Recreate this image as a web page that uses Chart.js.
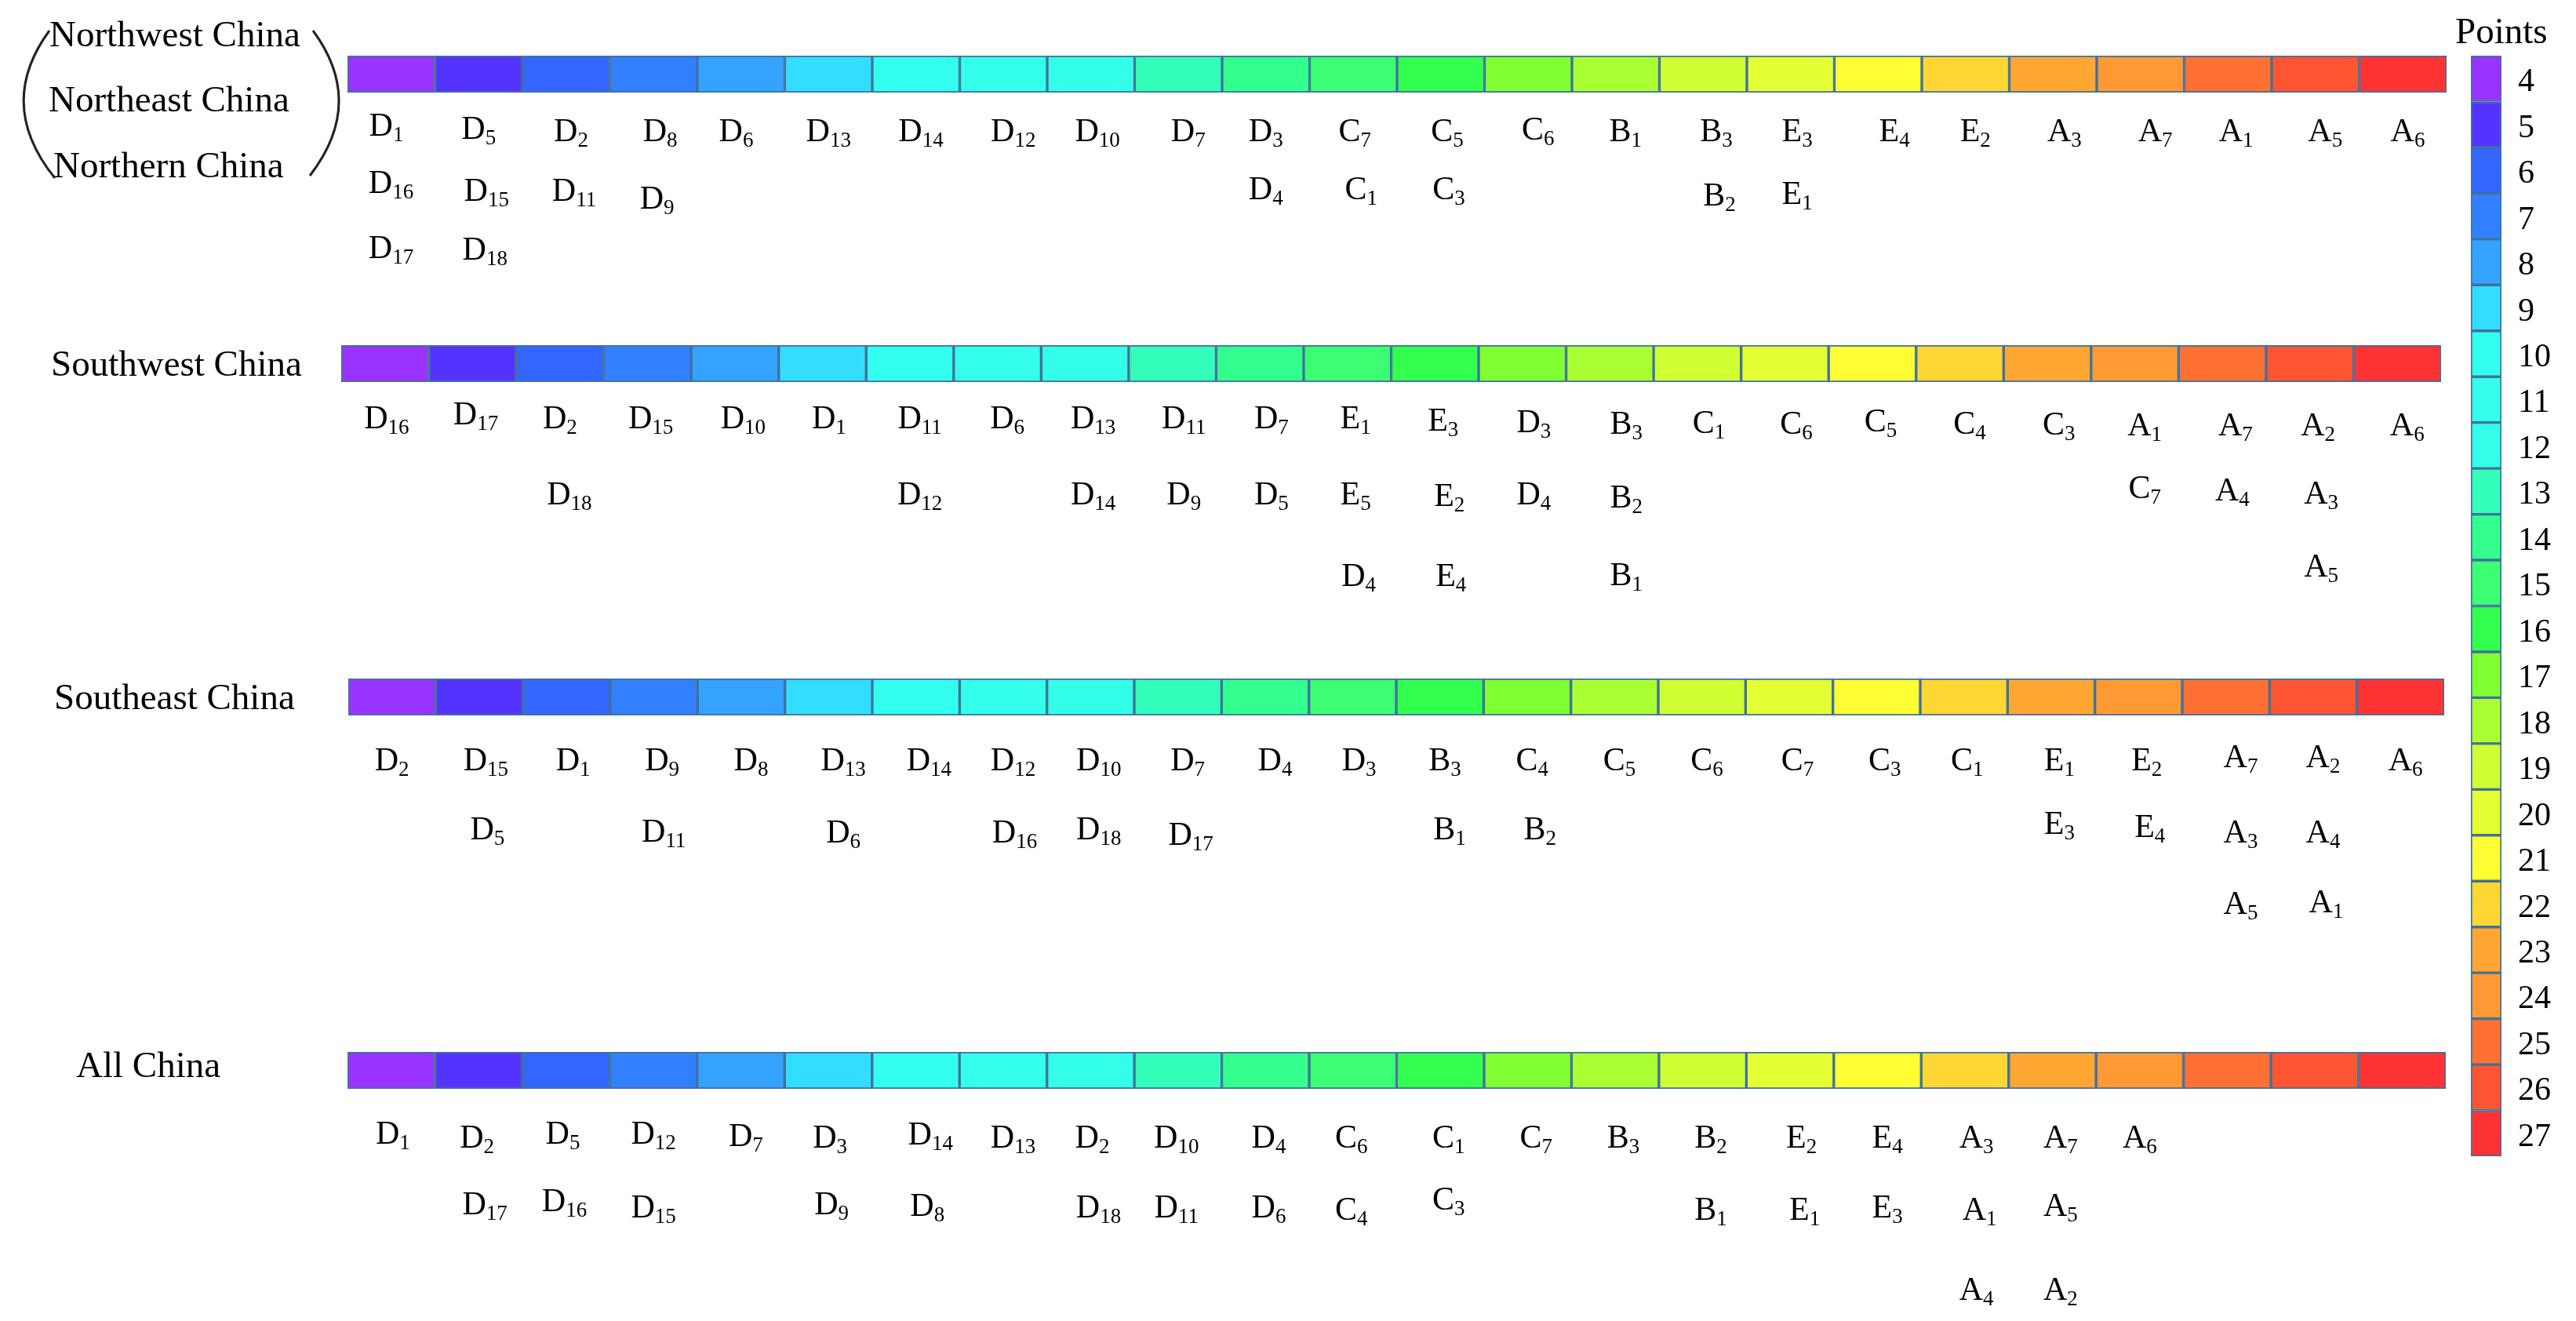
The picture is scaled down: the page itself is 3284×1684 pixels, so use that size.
<!DOCTYPE html>
<html>
<head>
<meta charset="utf-8">
<title>Points by region</title>
<script src="https://cdn.jsdelivr.net/npm/chart.js@4/dist/chart.umd.min.js"></script>
<style>
  body { margin: 0; background: #fff; }
  canvas { position: absolute; left: 0; top: 0; }
</style>
</head>
<body>
<canvas id="strip1" width="3284" height="1684"></canvas>
<canvas id="strip2" width="3284" height="1684"></canvas>
<canvas id="strip3" width="3284" height="1684"></canvas>
<canvas id="strip4" width="3284" height="1684"></canvas>
<canvas id="scale" width="3284" height="1684"></canvas>
<script>
// score classes shown in every strip and in the colour key
const points = [4, 5, 6, 7, 8, 9, 10, 11, 12, 13, 14, 15, 16, 17, 18, 19, 20, 21, 22, 23, 24, 25, 26, 27];

// indicators sitting under each score class
const northChina = [
  ['D1', 'D16', 'D17'], ['D5', 'D15', 'D18'], ['D2', 'D11'], ['D8', 'D9'], ['D6'], ['D13'],
  ['D14'], ['D12'], ['D10'], ['D7'], ['D3', 'D4'], ['C7', 'C1'],
  ['C5', 'C3'], ['C6'], ['B1'], ['B3', 'B2'], ['E3', 'E1'], ['E4'],
  ['E2'], ['A3'], ['A7'], ['A1'], ['A5'], ['A6']
];
const southwestChina = [
  ['D16'], ['D17'], ['D2', 'D18'], ['D15'], ['D10'], ['D1'],
  ['D11', 'D12'], ['D6'], ['D13', 'D14'], ['D11', 'D9'], ['D7', 'D5'], ['E1', 'E5', 'D4'],
  ['E3', 'E2', 'E4'], ['D3', 'D4'], ['B3', 'B2', 'B1'], ['C1'], ['C6'], ['C5'],
  ['C4'], ['C3'], ['A1', 'C7'], ['A7', 'A4'], ['A2', 'A3', 'A5'], ['A6']
];
const southeastChina = [
  ['D2'], ['D15', 'D5'], ['D1'], ['D9', 'D11'], ['D8'], ['D13', 'D6'],
  ['D14'], ['D12', 'D16'], ['D10', 'D18'], ['D7', 'D17'], ['D4'], ['D3'],
  ['B3', 'B1'], ['C4', 'B2'], ['C5'], ['C6'], ['C7'], ['C3'],
  ['C1'], ['E1', 'E3'], ['E2', 'E4'], ['A7', 'A3', 'A5'], ['A2', 'A4', 'A1'], ['A6']
];
const allChina = [
  ['D1'], ['D2', 'D17'], ['D5', 'D16'], ['D12', 'D15'], ['D7'], ['D3', 'D9'],
  ['D14', 'D8'], ['D13'], ['D2', 'D18'], ['D10', 'D11'], ['D4', 'D6'], ['C6', 'C4'],
  ['C1', 'C3'], ['C7'], ['B3'], ['B2', 'B1'], ['E2', 'E1'], ['E4', 'E3'],
  ['A3', 'A1', 'A4'], ['A7', 'A5', 'A2'], ['A6'], [], [], []
];

const cellColors = [
  '#9933ff', '#5533ff', '#3366ff', '#3380ff', '#33a3ff', '#33ddff', '#33ffee', '#33ffea',
  '#33ffe8', '#33ffbb', '#33ff8f', '#3cff73', '#33ff4f', '#80ff33', '#aaff33', '#d0ff33',
  '#e4ff33', '#ffff33', '#ffd633', '#ffa633', '#ff9933', '#ff7033', '#ff5533', '#ff3333'
];
const outline = '#41719c';
const serif = '"Liberation Serif", "Times New Roman", serif';

function drawIndicator(ctx, label, cx, baseline) {
  const letter = label[0], sub = label.slice(1);
  ctx.font = '42px ' + serif;
  const w1 = ctx.measureText(letter).width;
  ctx.font = '27px ' + serif;
  const w2 = ctx.measureText(sub).width;
  const x = cx - (w1 + w2) / 2;
  ctx.textAlign = 'left';
  ctx.textBaseline = 'alphabetic';
  ctx.fillStyle = '#000';
  ctx.font = '42px ' + serif;
  ctx.fillText(letter, x, baseline);
  ctx.font = '27px ' + serif;
  ctx.fillText(sub, x + w1, baseline + 7);
}

// indicators under the cells, one text row per entry of the column
const indicatorPlugin = {
  id: 'indicators',
  afterDraw(chart, args, opts) {
    const ctx = chart.ctx, x = chart.scales.x;
    ctx.save();
    opts.columns.forEach((col, i) => {
      col.forEach((label, row) => {
        // a few labels sit off their row in the original
        const shift = opts.shifts[i + ',' + row] || [0, 0];
        drawIndicator(ctx, label, x.getPixelForValue(i) + opts.nudge[i] * 2.09 + shift[0], opts.rows[row] + shift[1]);
      });
    });
    ctx.restore();
  }
};

const captionPlugin = {
  id: 'captions',
  afterDraw(chart, args, opts) {
    const ctx = chart.ctx;
    ctx.save();
    ctx.fillStyle = '#000';
    ctx.font = opts.size + 'px ' + serif;
    ctx.textAlign = 'left';
    ctx.textBaseline = 'alphabetic';
    opts.items.forEach(c => ctx.fillText(c[0], c[1], c[2]));
    ctx.restore();
    if (opts.brace) {
      ctx.save();
      ctx.strokeStyle = '#222';
      ctx.lineWidth = 3;
      ctx.beginPath();
      ctx.moveTo(63, 39);
      ctx.quadraticCurveTo(-6, 133, 70, 227);
      ctx.moveTo(399, 39);
      ctx.quadraticCurveTo(467, 131, 395, 224);
      ctx.stroke();
      ctx.restore();
    }
  }
};

function stripChart(id, columns, box, rows, nudge, shifts, captions, brace) {
  return new Chart(document.getElementById(id), {
    type: 'bar',
    plugins: [indicatorPlugin, captionPlugin],
    data: {
      labels: points,
      datasets: [{
        data: points.map(() => 1),
        backgroundColor: cellColors,
        borderColor: outline,
        borderWidth: 2,
        borderSkipped: false,
        barPercentage: 1,
        categoryPercentage: 1
      }]
    },
    options: {
      responsive: false,
      animation: false,
      devicePixelRatio: 1,
      layout: { padding: { left: box.left, right: 3284 - box.right, top: box.top, bottom: 1684 - box.bottom } },
      scales: {
        x: { display: false },
        y: { display: false, min: 0, max: 1 }
      },
      plugins: {
        legend: { display: false },
        tooltip: { enabled: false },
        indicators: { columns: columns, rows: rows, nudge: nudge, shifts: shifts },
        captions: { items: captions, size: 47, brace: brace }
      }
    }
  });
}

stripChart('strip1', northChina, { left: 443, right: 3119, top: 71, bottom: 118 }, [180, 254, 329],
  [-3, 0, 3, 4, -3, 0, 3, 6, 4, 6, 0, 1, 4, 6, 6, 8, 4, 10, 6, 7, 9, 5, 6, 3],
  { '0,0': [0, -7], '1,0': [0, -3], '13,0': [0, -2], '0,1': [6, -8], '1,1': [10, 2], '2,1': [4, 2], '3,1': [-4, 12], '11,1': [8, 0], '12,1': [2, 0], '15,1': [4, 8], '16,1': [0, 6], '0,2': [6, 0], '1,2': [8, 2] },
  [['Northwest China', 63, 59], ['Northeast China', 62, 142], ['Northern China', 68, 226]], true);

stripChart('strip2', southwestChina, { left: 435, right: 3112, top: 440, bottom: 487 }, [546, 643, 746],
  [1, 2, 0, 2, 5, 4, 6, 6, 5, 7, 7, 5, 5, 7, 10, 7, 7, 5, 6, 7, 6, 8, 5, 6],
  { '1,0': [0, -5], '12,0': [0, 3], '13,0': [0, 5], '14,0': [0, 7], '15,0': [0, 6], '16,0': [0, 7], '17,0': [0, 4], '18,0': [0, 7], '19,0': [0, 8], '20,0': [0, 9], '21,0': [0, 9], '22,0': [0, 9], '23,0': [0, 9], '2,1': [12, 0], '20,1': [0, -8], '21,1': [-4, -5], '22,1': [4, -1], '22,2': [4, -11], '11,2': [4, 1], '12,2': [10, 1], '12,1': [8, 2], '14,1': [0, 4] },
  [['Southwest China', 65, 479]], false);

stripChart('strip3', southeastChina, { left: 444, right: 3116, top: 865, bottom: 912 }, [982, 1074, 1165],
  [0, 4, 4, 5, 6, 9, 8, 6, 5, 6, 6, 4, 3, 3, 3, 3, 5, 5, 2, 5, 5, 9, 6, 3],
  { '21,0': [0, -4], '22,0': [0, -4], '1,1': [2, -4], '3,1': [2, -1], '7,1': [2, 0], '8,1': [0, -4], '9,1': [4, 3], '12,1': [6, -4], '13,1': [10, -4], '19,1': [0, -11], '20,1': [4, -7], '22,2': [4, -2] },
  [['Southeast China', 69, 904]], false);

stripChart('strip4', allChina, { left: 443, right: 3118, top: 1341, bottom: 1388 }, [1463, 1552, 1657],
  [1, -1, -2, 0, 3, 1, 9, 6, 1, -1, 2, -1, 5, 5, 5, 5, 7, 6, 7, 5, 0, 0, 0, 0],
  { '0,0': [0, -5], '2,0': [0, -5], '3,0': [0, -5], '4,0': [0, -2], '6,0': [0, -4], '1,1': [10, -4], '2,1': [2, -8], '5,1': [2, -4], '6,1': [-4, -2], '8,1': [8, 0], '11,1': [0, 3], '12,1': [0, -10], '15,1': [0, 3], '16,1': [4, 3], '18,1': [4, 3], '19,1': [0, -2] },
  [['All China', 97, 1373]], false);

// colour key on the right edge
new Chart(document.getElementById('scale'), {
  type: 'bar',
  plugins: [captionPlugin],
  data: {
    labels: points,
    datasets: [{
      data: points.map(() => 1),
      backgroundColor: cellColors,
      borderColor: outline,
      borderWidth: 2,
      borderSkipped: false,
      barPercentage: 1,
      categoryPercentage: 1
    }]
  },
  options: {
    indexAxis: 'y',
    responsive: false,
    animation: false,
    devicePixelRatio: 1,
    layout: { padding: { left: 3150, right: 0, top: 71, bottom: 1684 - 1474 } },
    scales: {
      x: { display: false, min: 0, max: 1 },
      y: {
        position: 'right',
        afterFit(scale) { scale.width = 95; },
        grid: { display: false, drawBorder: false },
        border: { display: false },
        ticks: {
          autoSkip: false,
          color: '#000',
          font: { family: serif, size: 42 },
          padding: 13,
          labelOffset: 5
        }
      }
    },
    plugins: {
      legend: { display: false },
      tooltip: { enabled: false },
      captions: { items: [['Points', 3130, 55]], size: 47, brace: false }
    }
  }
});
</script>
</body>
</html>
